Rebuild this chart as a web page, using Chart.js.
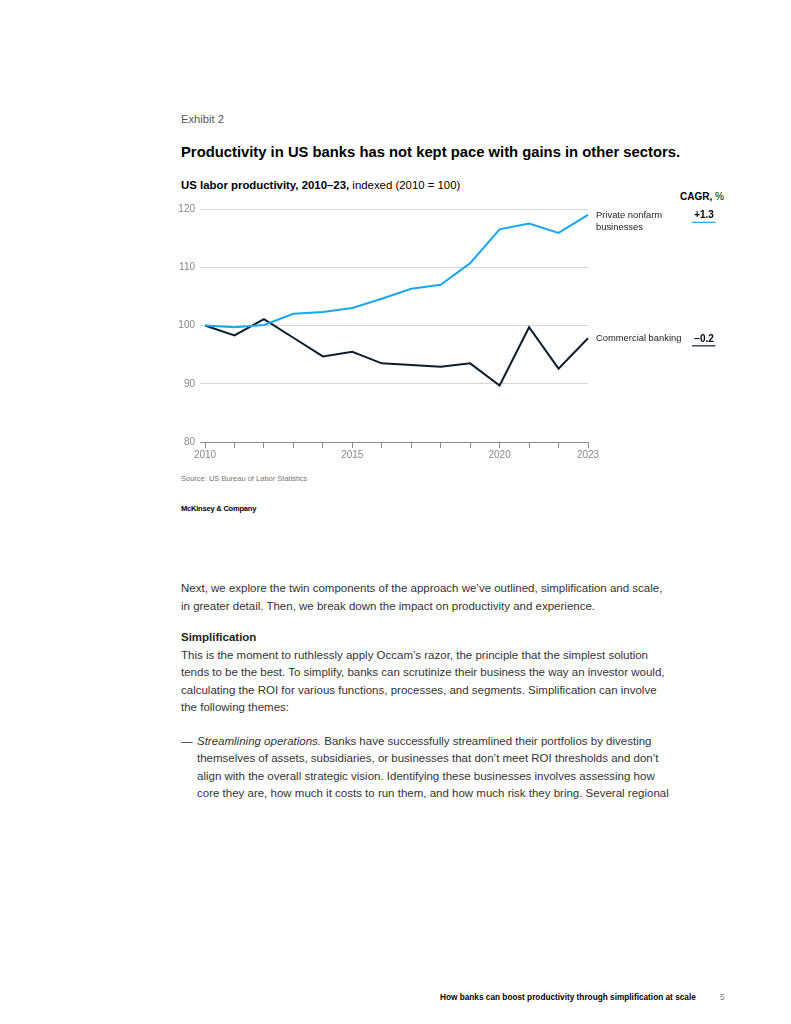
<!DOCTYPE html>
<html>
<head>
<meta charset="utf-8">
<script src="https://cdn.jsdelivr.net/npm/chart.js@4.4.1/dist/chart.umd.min.js"></script>
<style>
  html, body { margin:0; padding:0; background:#fff; }
  body { width:791px; height:1024px; position:relative; overflow:hidden; font-family:"Liberation Sans", Arial, sans-serif; }
  .t { position:absolute; white-space:nowrap; }
  .exhibit { left:181px; top:111px; font-size:11.2px; line-height:16px; color:#555; }
  .title { left:181px; top:142px; font-size:14.8px; line-height:20px; font-weight:bold; color:#000; }
  .subtitle { left:181px; top:177px; font-size:11.4px; line-height:16px; color:#000; }
  .cagr { right:67px; top:190px; font-size:10px; line-height:14px; color:#000; }
  .source { left:181px; top:473px; font-size:7.5px; line-height:12px; color:#777; }
  .brand { left:181px; top:503px; font-size:7.5px; line-height:12px; font-weight:bold; color:#000; letter-spacing:-0.2px; }
  .body { left:181px; font-size:11.5px; line-height:17.5px; color:#333; }
  .bul { left:197px; font-size:11.5px; line-height:17.5px; color:#333; }
  .footer { left:440px; top:991.5px; font-size:8.25px; line-height:12px; font-weight:bold; color:#000; }
  .pnum { left:720px; top:991.5px; font-size:8.25px; line-height:12px; color:#777; }
  #wrap { position:absolute; left:170px; top:190px; width:560px; height:280px; }
</style>
</head>
<body>
<div class="t exhibit">Exhibit 2</div>
<div class="t title">Productivity in US banks has not kept pace with gains in other sectors.</div>
<div class="t subtitle"><b>US labor productivity, 2010–23,</b> indexed (2010 = 100)</div>
<div class="t cagr"><b>CAGR,</b> %</div>
<div id="wrap"><canvas id="c"></canvas></div>
<div class="t source">Source: US Bureau of Labor Statistics</div>
<div class="t brand">McKinsey &amp; Company</div>

<div class="t body" style="top:580px">Next, we explore the twin components of the approach we’ve outlined, simplification and scale,</div>
<div class="t body" style="top:597.5px">in greater detail. Then, we break down the impact on productivity and experience.</div>
<div class="t body" style="top:629px;font-weight:bold;color:#222">Simplification</div>
<div class="t body" style="top:646.5px">This is the moment to ruthlessly apply Occam’s razor, the principle that the simplest solution</div>
<div class="t body" style="top:664px">tends to be the best. To simplify, banks can scrutinize their business the way an investor would,</div>
<div class="t body" style="top:681.5px">calculating the ROI for various functions, processes, and segments. Simplification can involve</div>
<div class="t body" style="top:699px">the following themes:</div>
<div class="t body" style="top:732.5px">—</div>
<div class="t bul" style="top:732.5px"><i>Streamlining operations.</i> Banks have successfully streamlined their portfolios by divesting</div>
<div class="t bul" style="top:750px">themselves of assets, subsidiaries, or businesses that don’t meet ROI thresholds and don’t</div>
<div class="t bul" style="top:767.5px">align with the overall strategic vision. Identifying these businesses involves assessing how</div>
<div class="t bul" style="top:785px">core they are, how much it costs to run them, and how much risk they bring. Several regional</div>

<div class="t footer">How banks can boost productivity through simplification at scale</div>
<div class="t pnum">5</div>

<script>
const years = ["2010","2011","2012","2013","2014","2015","2016","2017","2018","2019","2020","2021","2022","2023"];
const shownYears = ["2010","2015","2020","2023"];
const privateNonfarm = [100, 99.7, 100.1, 102.0, 102.3, 103.0, 104.6, 106.3, 107.0, 110.7, 116.5, 117.5, 115.9, 119.0];
const commercialBanking = [100, 98.3, 101.1, 97.9, 94.7, 95.5, 93.5, 93.2, 92.9, 93.5, 89.7, 99.7, 92.6, 97.8];
const seriesNames = [["Private nonfarm", "businesses"], ["Commercial banking"]];
const cagrValues = ["+1.3", "\u22120.2"];
const yTicks = [80, 90, 100, 110, 120];
const colors = ["#1AA6F0", "#0B1D2E"];

const endLabels = {
  id: 'endLabels',
  afterDatasetsDraw(chart) {
    const ctx = chart.ctx;
    ctx.save();
    chart.data.datasets.forEach((ds, i) => {
      const meta = chart.getDatasetMeta(i);
      const pt = meta.data[meta.data.length - 1];
      const x = pt.x + 8, y = pt.y + 0.5;
      ctx.fillStyle = '#222';
      ctx.font = '9.4px "Liberation Sans", Arial, sans-serif';
      ctx.textAlign = 'left';
      ctx.textBaseline = 'middle';
      seriesNames[i].forEach((line, j) => ctx.fillText(line, x, y + j * 12));
      ctx.font = 'bold 10px "Liberation Sans", Arial, sans-serif';
      ctx.textAlign = 'center';
      const cx = chart.width - 26;
      ctx.fillStyle = '#000';
      ctx.fillText(cagrValues[i], cx, y);
      ctx.strokeStyle = colors[i];
      ctx.lineWidth = 1.2;
      ctx.beginPath();
      ctx.moveTo(cx - 12, y + 7);
      ctx.lineTo(cx + 11.5, y + 7);
      ctx.stroke();
    });
    ctx.restore();
  }
};

new Chart(document.getElementById('c'), {
  type: 'line',
  data: {
    labels: years,
    datasets: [
      { label: seriesNames[0].join(' '), data: privateNonfarm, borderColor: colors[0], borderWidth: 2, pointRadius: 0, tension: 0, fill: false },
      { label: seriesNames[1].join(' '), data: commercialBanking, borderColor: colors[1], borderWidth: 2, pointRadius: 0, tension: 0, fill: false }
    ]
  },
  options: {
    responsive: true,
    maintainAspectRatio: false,
    animation: false,
    layout: { padding: { left: 0, right: 142, top: 19, bottom: 0 } },
    plugins: { legend: { display: false }, tooltip: { enabled: false } },
    scales: {
      x: {
        offset: false,
        afterFit: s => { s.height = 28; },
        border: { display: true, color: '#8a8a8a', width: 1 },
        grid: { drawOnChartArea: false, drawTicks: true, tickLength: 6, color: '#8a8a8a' },
        ticks: {
          autoSkip: false, maxRotation: 0, padding: 1,
          color: '#888', font: { size: 10, family: '"Liberation Sans", Arial, sans-serif' },
          callback: function(v, i) { const l = this.getLabelForValue(v); return shownYears.includes(l) ? l : ''; }
        }
      },
      y: {
        min: 80, max: 120,
        afterFit: s => { s.width = 35; },
        afterBuildTicks: s => { s.ticks = yTicks.map(v => ({ value: v })); },
        border: { display: false },
        grid: { drawTicks: true, tickLength: 5, color: ctx => ctx.tick && ctx.tick.value === 80 ? '#8a8a8a' : '#d6d6d6', lineWidth: 1 },
        ticks: { padding: 5, color: '#888', font: { size: 10, family: '"Liberation Sans", Arial, sans-serif' } }
      }
    }
  },
  plugins: [endLabels]
});
</script>
</body>
</html>
